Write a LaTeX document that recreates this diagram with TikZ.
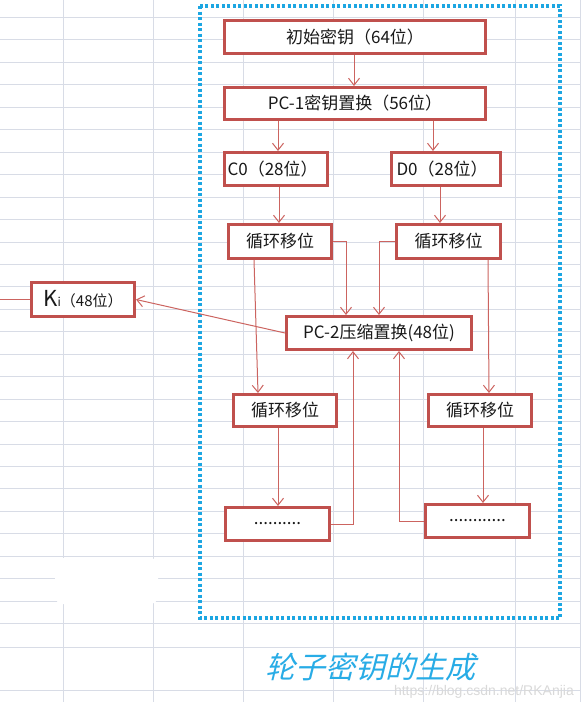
\documentclass[tikz,border=0pt]{standalone}
\usepackage{fontspec}
\setmainfont{Noto Sans CJK SC}
\newfontfamily\titlefont[FakeSlant=0.25]{Noto Sans CJK SC}
\newfontfamily\wmfont{Liberation Sans}
\usetikzlibrary{arrows.meta}
\definecolor{boxred}{RGB}{192,80,77}
\definecolor{arrred}{RGB}{204,100,96}
\definecolor{frameblue}{RGB}{28,166,226}
\definecolor{titleblue}{RGB}{40,172,230}
\definecolor{gridc}{RGB}{216,220,230}
\definecolor{txt}{RGB}{25,25,25}
\tikzset{
  gridline/.style={draw=gridc, line width=1pt},
  box/.style={draw=boxred, line width=3pt, fill=white, inner sep=0pt, text=txt, font=\fontsize{17}{20}\selectfont},
  arr/.style={draw=arrred, line width=1pt, -{Straight Barb[length=7pt,width=11pt]}},
  plainline/.style={draw=arrred, line width=1pt},
  frame/.style={draw=frameblue, line width=3.5pt, dash pattern=on 3pt off 2.5pt}
}
\begin{document}
\begin{tikzpicture}[x=1pt,y=-1pt]
\useasboundingbox (0,0) rectangle (581,702);
\fill[white] (0,0) rectangle (581,702);
% spreadsheet grid
\foreach \x in {63,153,243,333,423,515,580}
  \draw[gridline] (\x,0) -- (\x,702);
\foreach \k in {0,...,27}
  \draw[gridline] (0,{17.5+22.45*\k}) -- (581,{17.5+22.45*\k});
\draw[gridline] (0,647.5) -- (581,647.5);
\draw[gridline] (0,690) -- (581,690);
\fill[white, rounded corners=8pt] (55,558) rectangle (158,604);

% dotted frame
\draw[frame] (200,6) rectangle (560,618);

% boxes
\node[box, minimum width=261pt, minimum height=33pt] (init) at (355,37) {初始密钥（64位）};
\node[box, minimum width=261pt, minimum height=32pt] (pc1) at (355,103.5) {PC-1密钥置换（56位）};
\node[box, minimum width=103pt, minimum height=33pt, text width=97pt, align=left] (c0) at (276,169) {C0（28位）};
\node[box, minimum width=109pt, minimum height=33pt, text width=99pt, align=left] (d0) at (446,169) {D0（28位）};
\node[box, minimum width=103pt, minimum height=34pt] (l1) at (280,241.5) {循环移位};
\node[box, minimum width=104pt, minimum height=34pt] (r1) at (448.5,241.5) {循环移位};
\node[box, minimum width=185pt, minimum height=33pt] (pc2) at (379,333) {PC-2压缩置换(48位)};
\node[box, minimum width=103pt, minimum height=32pt] (l2) at (285,410.5) {循环移位};
\node[box, minimum width=103pt, minimum height=32pt] (r2) at (480,410.5) {循环移位};
\node[box, minimum width=104pt, minimum height=33pt] (ld) at (277.5,524) {..........};
\node[box, minimum width=104pt, minimum height=33pt] (rd) at (477.5,521) {............};
\node[box, minimum width=103pt, minimum height=34pt] (ki) at (83,299.5)
  {{\fontsize{22}{24}\selectfont K}{\fontsize{12}{14}\selectfont i}{\fontsize{15}{18}\selectfont（48位）}};
\coordinate (kin) at (0,299.5);

% connectors
\draw[arr] (init.south -| 354,0) -- (pc1.north -| 354,0);
\draw[arr] (pc1.south -| 278,0) -- (c0.north -| 278,0);
\draw[arr] (pc1.south -| 433,0) -- (d0.north -| 433,0);
\draw[arr] (c0.south -| 279,0) -- (l1.north -| 279,0);
\draw[arr] (d0.south -| 440,0) -- (r1.north -| 440,0);
\draw[arr] (l1.east) -| (pc2.north -| 346,0);
\draw[arr] (r1.west) -| (pc2.north -| 379,0);
\draw[arr] (l1.south -| 254,0) -- (l2.north -| 258,0);
\draw[arr] (r1.south -| 488,0) -- (r2.north -| 489,0);
\draw[arr] (l2.south -| 278,0) -- (ld.north -| 278,0);
\draw[arr] (r2.south -| 483,0) -- (rd.north -| 483,0);
\draw[arr] (ld.east) -| (pc2.south -| 353,0);
\draw[arr] (rd.west) -| (pc2.south -| 399,0);
\draw[arr] (pc2.west) -- (ki.east);
\draw[plainline] (kin) -- (ki.west);

% caption
\node[text=titleblue, inner sep=0pt, font=\titlefont\fontsize{30}{34}\selectfont] (title) at (370,667) {轮子密钥的生成};
\node[text=gray!30, inner sep=0pt, font=\wmfont\fontsize{14}{16}\selectfont, anchor=east] (wm) at (574,692) {https://blog.csdn.net/RKAnjia};
\end{tikzpicture}
\end{document}
